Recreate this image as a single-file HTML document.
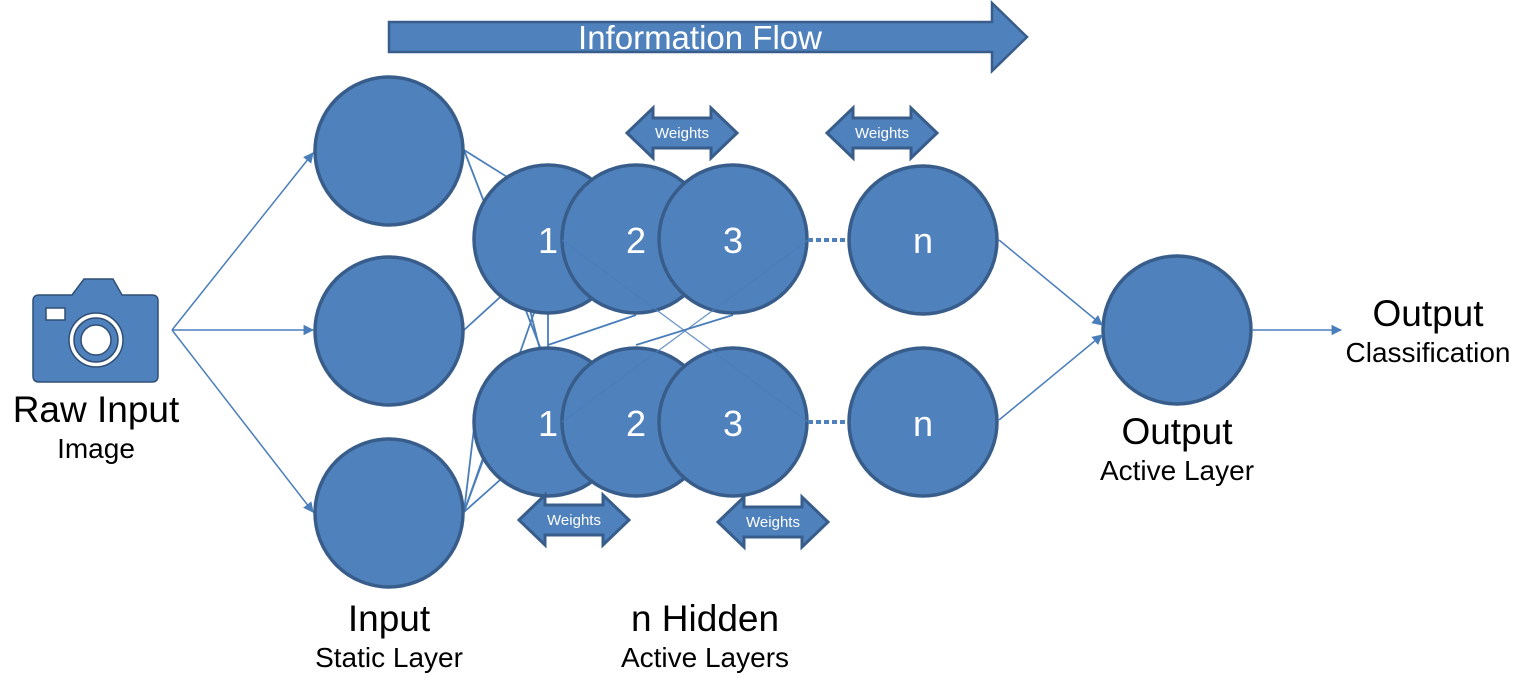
<!DOCTYPE html>
<html><head><style>
html,body{margin:0;padding:0;background:#fff;}
svg{display:block;font-family:"Liberation Sans",Arial,sans-serif;}
</style></head><body>
<svg width="1531" height="693" viewBox="0 0 1531 693" xmlns="http://www.w3.org/2000/svg">
<defs>
<marker id="ah" viewBox="0 0 10 10" refX="9" refY="5" markerWidth="7" markerHeight="7" orient="auto"><path d="M0,0 L10,5 L0,10 z" fill="#4a7ebb"/></marker>
<g id="wt">
<path d="M-55,0 L-29,-25 L-29,-15 L29,-15 L29,-25 L55,0 L29,25 L29,15 L-29,15 L-29,25 Z" fill="#4f81bd" stroke="#385d8a" stroke-width="3" stroke-linejoin="miter"/>
<text x="0" y="5" font-size="15" fill="#fff" text-anchor="middle">Weights</text>
</g>
</defs>

<path d="M389,22 L992,22 L992,3 L1027,37 L992,71 L992,52 L389,52 Z" fill="#4f81bd" stroke="#385d8a" stroke-width="2.5"/>
<text x="700" y="49" font-size="33" fill="#fff" text-anchor="middle">Information Flow</text>

<path d="M84,279 L113,279 L122,295 L152,295 Q158,295 158,301 L158,376 Q158,382 152,382 L39,382 Q33,382 33,376 L33,301 Q33,295 39,295 L72,295 Z" fill="#4f81bd" stroke="#2f4f75" stroke-width="1.5"/>
<rect x="46" y="308" width="19" height="12" fill="#fff" stroke="#2f4f75" stroke-width="1.5"/>
<circle cx="96" cy="340" r="27" fill="#fff" stroke="#2f4f75" stroke-width="1.5"/>
<circle cx="96" cy="340" r="22" fill="#4f81bd" stroke="#2f4f75" stroke-width="1.5"/>
<circle cx="96" cy="340" r="15" fill="#fff" stroke="#2f4f75" stroke-width="1.5"/>

<g stroke="#4a7ebb" stroke-width="1.5" fill="none" marker-end="url(#ah)">
<line x1="172" y1="330" x2="313" y2="153"/>
<line x1="172" y1="330" x2="313" y2="330"/>
<line x1="172" y1="330" x2="313" y2="512"/>
</g>

<g stroke="#4a7ebb" stroke-width="1.8" fill="none">
<line x1="464" y1="150" x2="520" y2="185"/>
<line x1="464" y1="150" x2="545" y2="360"/>
<line x1="464" y1="330" x2="530" y2="270"/>
<line x1="464" y1="512" x2="535" y2="310"/>
<line x1="464" y1="512" x2="475" y2="420"/>
<line x1="464" y1="512" x2="485" y2="455"/>
<line x1="464" y1="512" x2="500" y2="480"/>
<line x1="548" y1="310" x2="548" y2="350"/>
<line x1="530" y1="310" x2="540" y2="350"/>
<line x1="548" y1="345" x2="636" y2="315"/>
<line x1="636" y1="345" x2="733" y2="315"/>
</g>

<g fill="#4f81bd" stroke="#385d8a" stroke-width="3.5">
<circle cx="389" cy="151" r="74"/>
<circle cx="389" cy="331" r="74"/>
<circle cx="389" cy="513" r="74"/>
<circle cx="548" cy="239" r="74"/>
<circle cx="636" cy="239" r="74"/>
<circle cx="733" cy="239" r="74"/>
<circle cx="548" cy="422" r="74"/>
<circle cx="636" cy="422" r="74"/>
<circle cx="733" cy="422" r="74"/>
<circle cx="923" cy="240" r="74"/>
<circle cx="923" cy="422" r="74"/>
<circle cx="1177" cy="330" r="74"/>
</g>

<g stroke="#4a7ebb" stroke-width="1.3" opacity="0.8">
<line x1="562" y1="240" x2="808" y2="422"/>
<line x1="562" y1="422" x2="808" y2="240"/>
</g>

<g fill="#fff" font-size="36" text-anchor="middle">
<text x="548" y="253">1</text><text x="636" y="253">2</text><text x="733" y="253">3</text>
<text x="548" y="436">1</text><text x="636" y="436">2</text><text x="733" y="436">3</text>
<text x="923" y="253">n</text><text x="923" y="436">n</text>
</g>

<g stroke="#4f81bd" stroke-width="4" stroke-dasharray="5,3">
<line x1="808" y1="240" x2="848" y2="240"/>
<line x1="808" y1="422" x2="848" y2="422"/>
</g>

<use href="#wt" x="682" y="133"/>
<use href="#wt" x="882" y="133"/>
<use href="#wt" x="574" y="520"/>
<use href="#wt" x="773" y="522"/>

<g stroke="#4a7ebb" stroke-width="1.5" fill="none" marker-end="url(#ah)">
<line x1="999" y1="240" x2="1102" y2="325"/>
<line x1="999" y1="420" x2="1102" y2="335"/>
<line x1="1253" y1="330" x2="1341" y2="330"/>
</g>

<g fill="#000" text-anchor="middle">
<text x="96" y="422" font-size="37">Raw Input</text>
<text x="96" y="458" font-size="28">Image</text>
<text x="389" y="631" font-size="37">Input</text>
<text x="389" y="667" font-size="28">Static Layer</text>
<text x="705" y="631" font-size="37">n Hidden</text>
<text x="705" y="667" font-size="28">Active Layers</text>
<text x="1177" y="444" font-size="37">Output</text>
<text x="1177" y="480" font-size="28">Active Layer</text>
<text x="1428" y="326" font-size="37">Output</text>
<text x="1428" y="362" font-size="28">Classification</text>
</g>
</svg>
</body></html>
